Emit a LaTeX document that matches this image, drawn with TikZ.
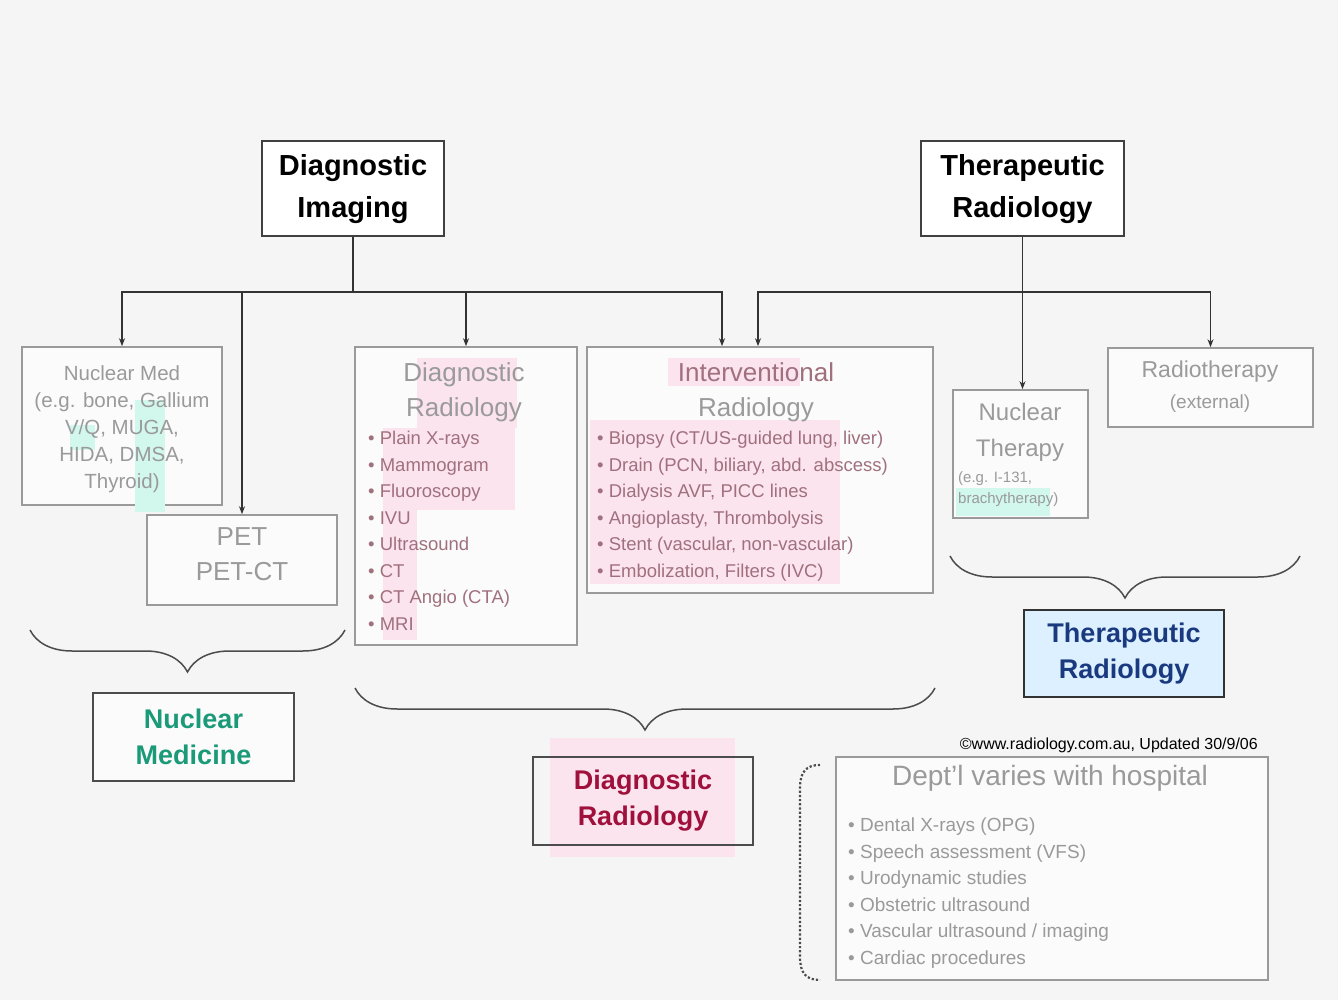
\documentclass[tikz,border=0pt]{standalone}
\usepackage{fontspec}
\setmainfont{Liberation Sans}
\usetikzlibrary{arrows.meta,decorations.pathreplacing}
\definecolor{bg}{HTML}{F5F5F5}
\definecolor{boxline}{HTML}{9A9A9A}
\definecolor{greytxt}{HTML}{9A9A9A}
\definecolor{hlpink}{HTML}{FCE4EE}
\definecolor{hlcyan}{HTML}{D2F7EC}
\definecolor{hlblue}{HTML}{DDF0FF}
\definecolor{pinktxt}{HTML}{A0707E}
\definecolor{redlab}{HTML}{A0103C}
\definecolor{greenlab}{HTML}{1A9A78}
\definecolor{bluelab}{HTML}{1A3A80}
\begin{document}
\begin{tikzpicture}[x=1pt,y=-1pt,
  topbox/.style={draw=black!75, line width=2pt, fill=white, inner sep=0pt,
    font=\fontsize{29}{42}\selectfont\bfseries, align=center},
  subbox/.style={draw=boxline, line width=1.6pt, fill=white!60!bg, inner sep=0pt},
  labbox/.style={draw=black!70, line width=1.8pt, fill=white!60!bg, inner sep=0pt,
    font=\fontsize{27}{36}\selectfont\bfseries, align=center},
  greytext/.style={text=greytxt, font=\fontsize{20}{30}\selectfont, align=center, inner sep=0pt},
  bullets/.style={text=pinktxt, font=\fontsize{18.5}{26.5}\selectfont, align=left, inner sep=0pt},
  conn/.style={draw=black!80, line width=1.3pt},
  arr/.style={conn, -{Stealth[length=8pt,width=6pt]}},
  bracestyle/.style={draw=black!70, line width=1.5pt, decorate,
    decoration={brace, mirror, amplitude=42pt}}
]
\fill[bg] (0,0) rectangle (1338,1000);
\useasboundingbox (0,0) rectangle (1338,1000);

% top boxes
\node[topbox, minimum width=182pt, minimum height=95pt] (DI) at (353,189) {Diagnostic\\Imaging};
\node[topbox, minimum width=203pt, minimum height=95pt] (TR) at (1022.5,189) {Therapeutic\\Radiology};

% sub boxes
\node[subbox, minimum width=200pt, minimum height=158pt] (NM) at (122,426) {};
\node[subbox, minimum width=190pt, minimum height=90pt] (PET) at (242,560) {};
\node[subbox, minimum width=222pt, minimum height=298pt] (DR) at (466,496) {};
\node[subbox, minimum width=346pt, minimum height=246pt] (IR) at (760,470) {};
\node[subbox, minimum width=135pt, minimum height=128pt] (NT) at (1020.5,454) {};
\node[subbox, minimum width=205pt, minimum height=79pt] (RT) at (1210.5,387.5) {};

% highlights
\fill[hlcyan] (135,400) rectangle (165,512);
\fill[hlcyan] (70,425) rectangle (95,450);
\fill[hlpink] (417,358) rectangle (517,428);
\fill[hlpink] (383,428) rectangle (515,510);
\fill[hlpink] (383,510) rectangle (417,640);
\fill[hlpink] (668,358) rectangle (800,386);
\fill[hlpink] (590,420) rectangle (840,584);
\fill[hlcyan] (956,488) rectangle (1050,516);

% texts in sub boxes
\node[greytext, anchor=north, font=\fontsize{20.5}{27}\selectfont] (NMt) at (122,365)
  {Nuclear Med\\(e.g. bone, Gallium\\V/Q, MUGA,\\HIDA, DMSA,\\Thyroid)};
\node[greytext, anchor=north, font=\fontsize{26}{35}\selectfont] (PETt) at (242,527) {PET\\PET-CT};
\node[greytext, anchor=north, font=\fontsize{26}{35}\selectfont] (DRt) at (464,362) {Diagnostic\\Radiology};
\node[bullets, anchor=north west] (DRb) at (368,431)
  {• Plain X-rays\\• Mammogram\\• Fluoroscopy\\• IVU\\• Ultrasound\\• CT\\• CT Angio (CTA)\\• MRI};
\node[greytext, anchor=north, font=\fontsize{26}{35}\selectfont] (IRt) at (756,362)
  {\textcolor{pinktxt}{Interventional}\\Radiology};
\node[bullets, anchor=north west] (IRb) at (597,431)
  {• Biopsy (CT/US-guided lung, liver)\\• Drain (PCN, biliary, abd. abscess)\\• Dialysis AVF, PICC lines\\• Angioplasty, Thrombolysis\\• Stent (vascular, non-vascular)\\• Embolization, Filters (IVC)};
\node[greytext, anchor=north, font=\fontsize{24}{36}\selectfont] (NTt) at (1020,403) {Nuclear\\Therapy};
\node[greytext, anchor=north west, align=left, font=\fontsize{15}{21}\selectfont] (NTb) at (958,471) {(e.g. I-131,\\brachytherapy)};
\node[greytext, anchor=north, font=\fontsize{23}{31}\selectfont] (RTt) at (1210,361) {Radiotherapy\\{\fontsize{19}{20}\selectfont(external)}};

% connectors
\coordinate (j1) at (353,292);
\coordinate (j2) at (1022.5,292);
\draw[conn] (DI.south) -- (j1);
\draw[arr] (j1) -| (NM.north);
\draw[arr] (j1) -| (PET.north);
\draw[arr] (j1) -| (DR.north);
\draw[arr] (j1) -| ([xshift=-38pt]IR.north);
\draw[conn] (TR.south) -- (j2);
\draw[arr] (j2) -| ([xshift=-2pt]IR.north);
\draw[arr] (j2) -| (RT.north);
\draw[arr] (j2) -- (NT.north -| j2);

% braces
\draw[bracestyle] (30,630) -- (345,630);
\draw[bracestyle] (355,688) -- (935,688);
\draw[bracestyle] (950,556) -- (1300,556);

% label boxes
\fill[hlpink] (550,738) rectangle (735,857);
\node[labbox, minimum width=201pt, minimum height=88pt, text=greenlab] (NMl) at (193.5,737) {Nuclear\\Medicine};
\node[labbox, minimum width=220pt, minimum height=88pt, text=redlab, fill=none] (DRl) at (643,801) {Diagnostic\\Radiology};
\node[labbox, minimum width=200pt, minimum height=87pt, text=bluelab, fill=hlblue, draw=black!80] (TRl) at (1124,653.5) {Therapeutic\\Radiology};

% dept box
\node[font=\fontsize{16}{18}\selectfont, anchor=east, inner sep=0pt] (copy) at (1258,745) {©www.radiology.com.au, Updated 30/9/06};
\node[subbox, minimum width=432pt, minimum height=223pt] (DB) at (1052,868.5) {};
\node[greytext, anchor=north, font=\fontsize{28}{32}\selectfont] (DBt) at (1050,765) {Dept'l varies with hospital};
\node[bullets, anchor=north west, text=greytxt, font=\fontsize{19}{26.5}\selectfont] (DBb) at (848,818)
  {• Dental X-rays (OPG)\\• Speech assessment (VFS)\\• Urodynamic studies\\• Obstetric ultrasound\\• Vascular ultrasound / imaging\\• Cardiac procedures};
\coordinate (dtop) at (820,765);
\coordinate (dbot) at (820,980);
\draw[dotted, line width=2.2pt, black!70] (dtop) .. controls (806,765) and (800,772) .. (800,788)
  -- (800,957) .. controls (800,973) and (806,980) .. (dbot);
\end{tikzpicture}
\end{document}
